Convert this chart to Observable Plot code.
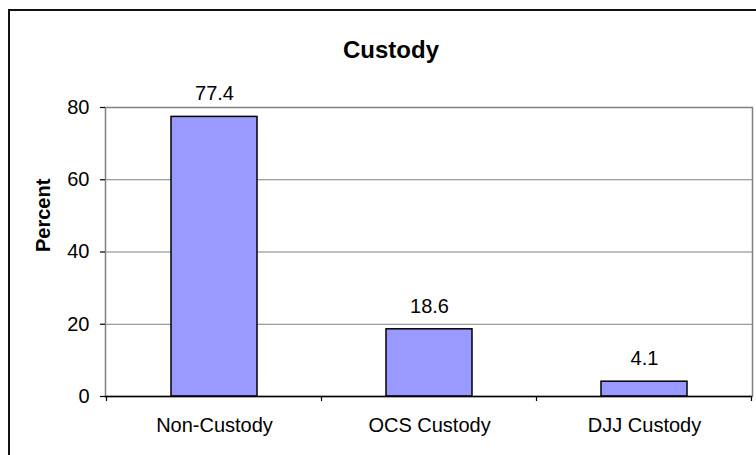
<!DOCTYPE html>
<html>
<head>
<meta charset="utf-8">
<script src="https://cdn.jsdelivr.net/npm/d3@7"></script>
<script src="https://cdn.jsdelivr.net/npm/@observablehq/plot@0.6"></script>
<style>
  html, body { margin: 0; padding: 0; background: #fff; overflow: hidden; }
  #wrap { position: relative; width: 756px; height: 455px; overflow: hidden; }
  #border { position: absolute; left: 8px; top: 9px; width: 800px; height: 500px; border: 2px solid #111; pointer-events: none; }
  svg { font-family: "Liberation Sans", Arial, sans-serif; }
</style>
</head>
<body>
<div id="wrap"></div>
<script>
const title = "Custody";
const yLabel = "Percent";
const categories = ["Non-Custody", "OCS Custody", "DJJ Custody"];
const values = [77.4, 18.6, 4.1];
const yTicks = [0, 20, 40, 60, 80];

const data = categories.map((c, i) => ({category: c, value: values[i]}));

const chart = Plot.plot({
  width: 756,
  height: 455,
  marginLeft: 105,
  marginRight: 4,
  marginTop: 107,
  marginBottom: 59,
  style: {background: "transparent", fontFamily: "'Liberation Sans', Arial, sans-serif", fontSize: "20px", color: "#000"},
  x: {domain: categories, paddingInner: 0.6, paddingOuter: 0.3, label: null},
  y: {domain: [0, 80], ticks: yTicks, label: null},
  marks: [
    Plot.gridY(yTicks.filter(t => t > 0), {stroke: "#808080", strokeOpacity: 1, strokeWidth: 1}),
    Plot.frame({stroke: "#808080", strokeWidth: 1.5}),
    Plot.barY(data, {x: "category", y: "value", fill: "#9999FF", stroke: "#000", strokeWidth: 1.5}),
    Plot.text(data, {x: "category", y: "value", text: d => d.value.toFixed(1), dy: -23, fontSize: 20, fill: "#000"}),
    Plot.axisY({ticks: yTicks, tickSize: 5, tickPadding: 11, fontSize: 20, label: null, stroke: "#000", strokeWidth: 1.2}),
    Plot.axisX({tickSize: 0, tickPadding: 21, fontSize: 20, label: null}),
    Plot.ruleX([0], {frameAnchor: "left", stroke: "#000", strokeWidth: 1.5}),
    Plot.ruleY([0], {stroke: "#000", strokeWidth: 1.5}),
    Plot.text([title], {frameAnchor: "top", dx: -38, dy: -67, fontSize: 24, fontWeight: "bold", fill: "#000"}),
    Plot.text([yLabel], {frameAnchor: "left", dx: -62, rotate: -90, fontSize: 20, fontWeight: "bold", fill: "#000"})
  ]
});

document.getElementById("wrap").appendChild(chart);

// Category boundary tick marks below the x axis, placed with the x scale
const xs = chart.scale("x");
const ys = chart.scale("y");
const step = xs.step ?? (xs.range[1] - xs.range[0]) / categories.length;
const bw = xs.bandwidth;
const gap = (step - bw) / 2;
const bounds = categories.map(c => xs.apply(c) - gap);
bounds.push(xs.apply(categories[categories.length - 1]) + bw + gap);
const y0 = ys.apply(0);
d3.select(chart).append("g")
  .selectAll("line").data(bounds).join("line")
  .attr("x1", d => d).attr("x2", d => d)
  .attr("y1", y0).attr("y2", y0 + 5)
  .attr("stroke", "#000").attr("stroke-width", 1.2);

const border = document.createElement("div");
border.id = "border";
document.getElementById("wrap").appendChild(border);
</script>
</body>
</html>
